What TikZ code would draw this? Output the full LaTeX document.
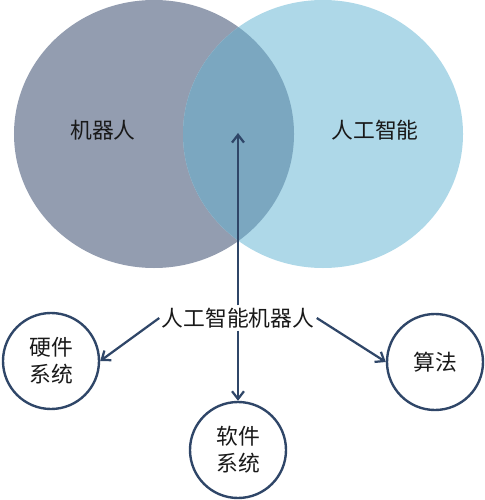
\documentclass[tikz,border=0pt]{standalone}
\usepackage{fontspec}
\setmainfont{Noto Sans CJK SC}
\usetikzlibrary{arrows.meta}
\definecolor{robotgray}{HTML}{939DB0}
\definecolor{aiblue}{HTML}{AED8E8}
\definecolor{both}{HTML}{7BA7C0}
\definecolor{navy}{HTML}{2F4668}
\begin{document}
\begin{tikzpicture}[x=0.5mm,y=-0.5mm,
  lbl/.style={font=\fontsize{31}{38}\selectfont, text=black!90, align=center},
  part/.style={lbl, circle, draw=navy, line width=3.4pt, minimum size=48mm, inner sep=0pt},
  arr/.style={-{Straight Barb[length=11pt,width=17pt]}, draw=navy, line width=3.2pt}]
\useasboundingbox (0,0) rectangle (485,500);
% venn
\fill[robotgray] (154,134) ellipse [x radius=70mm, y radius=67mm];
\fill[aiblue] (323,134) ellipse [x radius=70mm, y radius=67mm];
\begin{scope}
  \clip (154,134) ellipse [x radius=70mm, y radius=67mm];
  \fill[both] (323,134) ellipse [x radius=70mm, y radius=67mm];
\end{scope}
\node[lbl] (robot) at (103,130) {机器人};
\node[lbl] (ai) at (375,130) {人工智能};
\coordinate (mid) at (238,133);
% parts
\node[lbl] (core) at (238,318) {人工智能机器人};
\node[part] (hw) at (51,361) {硬件\\系统};
\node[part] (sw) at (238,450) {软件\\系统};
\node[part] (algo) at (435,362) {算法};
\draw[arr] (core.north) -- (mid);
\draw[arr] (core.west) -- (hw.east);
\draw[arr] (core.south) -- (sw.north);
\draw[arr] (core.east) -- (algo.west);
\end{tikzpicture}
\end{document}
